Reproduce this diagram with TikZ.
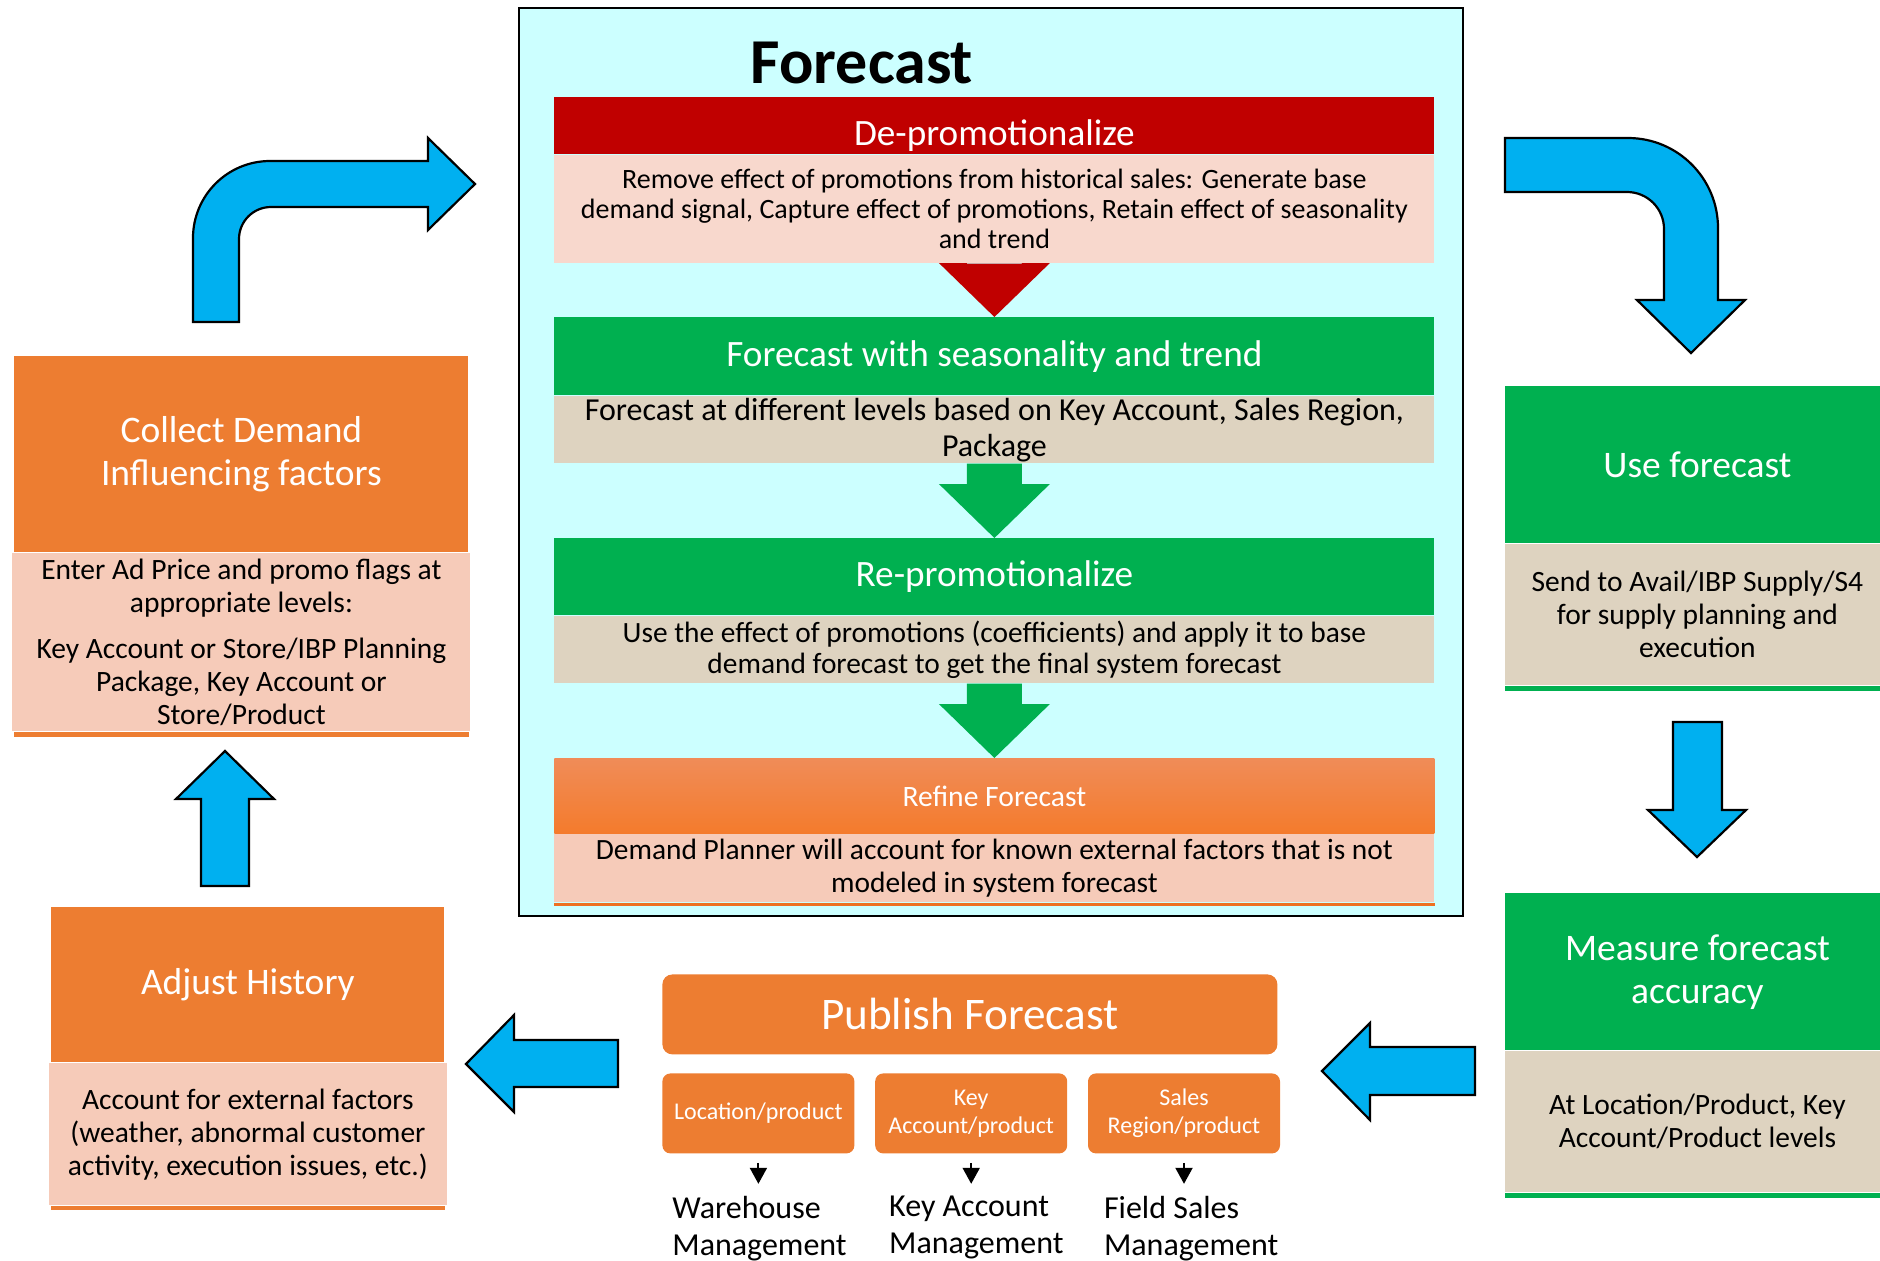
\documentclass[tikz,border=0pt]{standalone}
\usepackage{fontspec}
\setmainfont{Carlito}
\usetikzlibrary{positioning,calc,arrows.meta}

\definecolor{boxorange}{HTML}{ED7D31}
\definecolor{lightorange}{HTML}{F6CBB9}
\definecolor{boxgreen}{HTML}{00B050}
\definecolor{tanbody}{HTML}{DED3C0}
\definecolor{darkred}{HTML}{C00000}
\definecolor{lightpink}{HTML}{F8D8CD}
\definecolor{skyblue}{HTML}{00B0F0}
\definecolor{panelcyan}{HTML}{CCFFFF}
\definecolor{refinetop}{HTML}{F08C58}
\definecolor{refinebot}{HTML}{F47B2C}
\definecolor{refineline}{HTML}{EE7020}

\tikzset{
  hd/.style={inner sep=0pt, align=center, text=white, font=\fontsize{18.75}{21.5}\selectfont},
  bd/.style={inner sep=0pt, align=center, text=black, font=\fontsize{14.75}{16.5}\selectfont},
  band/.style={minimum width=440pt},
  bandhd/.style={hd, band, anchor=north west, font=\fontsize{18.6}{21}\selectfont},
  sub/.style={hd, fill=boxorange, rounded corners=4pt, minimum width=96pt, minimum height=40pt,
    font=\fontsize{12}{14}\selectfont},
  lbl/.style={inner sep=0pt, align=left, font=\fontsize{16}{18.5}\selectfont},
  bigarrow/.style={fill=skyblue, draw=black, line width=1.1pt, line join=miter},
}

% down arrow between two bands: colour, upper node, lower node
\newcommand{\flowarrow}[3]{%
  \fill[#1] ($(#2.south)+(-27.5,0)$) -- ($(#2.south)+(27.5,0)$) -- ($(#3.north)+(27.5,-54)$)
    -- ($(#3.north)+(55.5,-54)$) -- (#3.north) -- ($(#3.north)+(-55.5,-54)$)
    -- ($(#3.north)+(-27.5,-54)$) -- cycle;}

\begin{document}
\begin{tikzpicture}[x=0.5pt,y=-0.5pt]
  \useasboundingbox (0,0) rectangle (1880,1260);

  % forecast panel
  \node[draw, line width=1pt, fill=panelcyan, minimum width=472pt, minimum height=454pt,
    anchor=north west, inner sep=0pt] (panel) at (518,7) {};
  \node[font=\fontsize{32}{36}\selectfont\bfseries] (title) at (862,63) {Forecast};

  \node[bandhd, fill=darkred, minimum height=28.5pt, text height=24pt, text depth=4pt]
    (dph) at (554,97) {De-promotionalize};
  \node[bd, band, fill=lightpink, minimum height=54pt, below=0pt of dph,
    font=\fontsize{14}{15}\selectfont] (dpb)
    {Remove effect of promotions from historical sales: Generate base\\demand signal, Capture effect of promotions, Retain effect of seasonality\\and trend};

  \node[bandhd, fill=boxgreen, minimum height=39pt] (fsh) at (554,317)
    {Forecast with seasonality and trend};
  \node[bd, band, fill=tanbody, minimum height=33.5pt, below=0pt of fsh,
    font=\fontsize{16}{18}\selectfont] (fsb)
    {Forecast at different levels based on Key Account, Sales Region,\\Package};

  \node[bandhd, fill=boxgreen, minimum height=38.5pt] (rph) at (554,538) {Re-promotionalize};
  \node[bd, band, fill=tanbody, minimum height=33.5pt, below=0pt of rph,
    font=\fontsize{14.7}{15.6}\selectfont] (rpb)
    {Use the effect of promotions (coefficients) and apply it to base\\demand forecast to get the final system forecast};

  \node[bandhd, top color=refinetop, bottom color=refinebot, minimum height=37.5pt,
    font=\fontsize{14.8}{17}\selectfont] (rfh) at (554,758) {Refine Forecast};
  \node[bd, band, fill=lightorange, minimum height=34pt, below=0pt of rfh,
    font=\fontsize{14.7}{16.2}\selectfont] (rfb)
    {Demand Planner will account for known external factors that is not\\modeled in system forecast};
  \fill[refineline] (rfb.south west) rectangle ($(rfb.south east)+(0,3)$);

  \flowarrow{darkred}{dpb}{fsh}
  \flowarrow{boxgreen}{fsb}{rph}
  \flowarrow{boxgreen}{rpb}{rfh}

  % left column
  \node[hd, fill=boxorange, minimum width=227pt, minimum height=98pt, anchor=north west]
    (colh) at (14,356) {Collect Demand\\Influencing factors};
  \node[bd, fill=lightorange, minimum width=229pt, minimum height=89pt, below=0pt of colh] (colb)
    {Enter Ad Price and promo flags at\\appropriate levels:\\[6.5pt]Key Account or Store/IBP Planning\\Package, Key Account or\\Store/Product};
  \fill[boxorange] (colh.west |- colb.south) rectangle ($(colh.east |- colb.south)+(0,5)$);

  \node[hd, fill=boxorange, minimum width=196.5pt, minimum height=77.5pt, anchor=north west]
    (adjh) at (51,907) {Adjust History};
  \node[bd, fill=lightorange, minimum width=199pt, minimum height=71pt, below=0pt of adjh] (adjb)
    {Account for external factors\\(weather, abnormal customer\\activity, execution issues, etc.)};
  \fill[boxorange] (adjh.west |- adjb.south) rectangle ($(adjh.east |- adjb.south)+(0,4)$);

  % right column
  \node[hd, fill=boxgreen, minimum width=192pt, minimum height=78.5pt, anchor=north west]
    (useh) at (1505,386) {Use forecast};
  \node[bd, fill=tanbody, minimum width=192pt, minimum height=70.5pt, below=0pt of useh] (useb)
    {Send to Avail/IBP Supply/S4\\for supply planning and\\execution};
  \fill[boxgreen] (useb.south west) rectangle ($(useb.south east)+(0,5)$);

  \node[hd, fill=boxgreen, minimum width=192pt, minimum height=78.5pt, anchor=north west]
    (meah) at (1505,893) {Measure forecast\\accuracy};
  \node[bd, fill=tanbody, minimum width=192pt, minimum height=70.5pt, below=0pt of meah] (meab)
    {At Location/Product, Key\\Account/Product levels};
  \fill[boxgreen] (meab.south west) rectangle ($(meab.south east)+(0,5)$);

  % publish
  \node[hd, fill=boxorange, rounded corners=5pt, minimum width=307.5pt, minimum height=40pt,
    anchor=north west, font=\fontsize{22.6}{26}\selectfont] (pub) at (662,974) {Publish Forecast};
  \node[sub, anchor=north west] (loc) at (662,1073) {Location/product};
  \node[sub, right=10pt of loc] (ka) {Key\\Account/product};
  \node[sub, right=10pt of ka] (sr) {Sales\\Region/product};

  \node[lbl, anchor=north west] (wh) at ($(loc.south west)+(10,42)$) {Warehouse\\Management};
  \node[lbl, anchor=north west] (kam) at ($(ka.south west)+(14,42)$) {Key Account\\Management};
  \node[lbl, anchor=north west] (fsm) at ($(sr.south west)+(16,42)$) {Field Sales\\Management};

  \foreach \a/\b in {loc/wh,ka/kam,sr/fsm}
    \draw[line width=1pt, -{Triangle[width=8.5pt,length=8pt]}, shorten <=4.5pt, shorten >=6pt]
      (\a.south) -- (\a.south |- \b.north);

  % blue arrows round the cycle
  \draw[bigarrow] (193,322) -- (193,238) .. controls (193,195.5) and (227.5,161) .. (270,161)
    -- (428,161) -- (428,138) -- (475,184) -- (428,230) -- (428,207) -- (271,207)
    .. controls (253.3,207) and (239,221.3) .. (239,239) -- (239,322) -- cycle;
  \draw[bigarrow] (1505,138) -- (1628,138) .. controls (1677.7,138) and (1718,178.3) .. (1718,228)
    -- (1718,300) -- (1745,300) -- (1691,353) -- (1637,300) -- (1664,300) -- (1664,229)
    .. controls (1664,208.6) and (1647.6,192) .. (1627,192) -- (1505,192) -- cycle;
  \draw[bigarrow] (1673,722) -- (1722,722) -- (1722,810) -- (1746,810) -- (1697,857)
    -- (1648,810) -- (1673,810) -- cycle;
  \draw[bigarrow] (1475,1047) -- (1475,1095) -- (1370,1095) -- (1370,1120) -- (1322,1071)
    -- (1370,1023) -- (1370,1047) -- cycle;
  \draw[bigarrow] (618,1040) -- (618,1087) -- (514,1087) -- (514,1112) -- (466,1064)
    -- (514,1015) -- (514,1040) -- cycle;
  \draw[bigarrow] (201,886) -- (201,799) -- (176,799) -- (225,751) -- (274,799)
    -- (249,799) -- (249,886) -- cycle;
\end{tikzpicture}
\end{document}
